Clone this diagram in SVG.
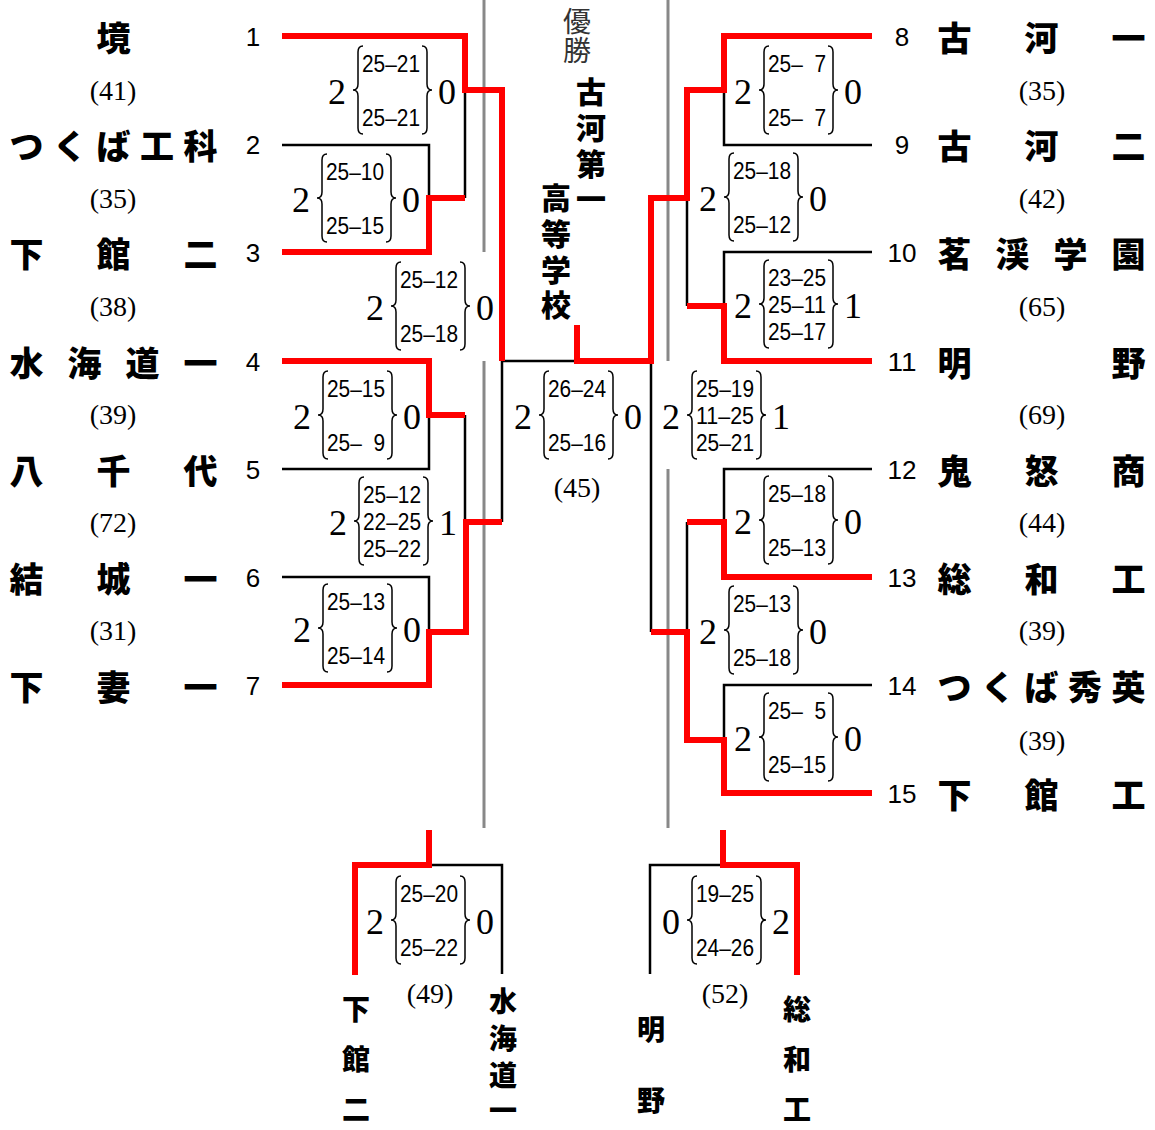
<svg xmlns="http://www.w3.org/2000/svg" xmlns:xlink="http://www.w3.org/1999/xlink" width="1155" height="1130" viewBox="0 0 1155 1130">
<style>
.nm{font-family:"Noto Sans CJK JP","Noto Sans CJK SC",sans-serif;font-weight:900;font-size:34px;fill:#000;dominant-baseline:central;text-anchor:middle}
.vt{font-family:"Noto Sans CJK JP","Noto Sans CJK SC",sans-serif;font-weight:900;font-size:30px;fill:#000;dominant-baseline:central;text-anchor:middle}
.vb{font-family:"Noto Sans CJK JP","Noto Sans CJK SC",sans-serif;font-weight:900;font-size:28px;fill:#000;dominant-baseline:central;text-anchor:middle}
.win{font-family:"Noto Sans CJK JP","Noto Sans CJK SC",sans-serif;font-weight:400;font-size:28px;fill:#333;dominant-baseline:central;text-anchor:middle}
.seed{font-family:"Liberation Sans",Arial,sans-serif;font-size:26px;fill:#000;text-anchor:middle;dominant-baseline:central}
.cnt{font-family:"Liberation Serif","Times New Roman",serif;font-size:28px;fill:#000;text-anchor:middle;dominant-baseline:central}
.big{font-family:"Liberation Serif","Times New Roman",serif;font-size:36px;fill:#000;text-anchor:middle;dominant-baseline:central}
.sc{font-family:"Liberation Sans",Arial,sans-serif;font-size:24px;fill:#000;text-anchor:middle;dominant-baseline:central}
.red{fill:none;stroke:#ff0000;stroke-width:6;stroke-linejoin:miter;stroke-linecap:butt}
.blk{fill:none;stroke:#000;stroke-width:2.5;stroke-linecap:butt}
.gry{fill:none;stroke:#888;stroke-width:3}
.br{fill:none;stroke:#000;stroke-width:1.5}
</style>
<defs>
<path id="lb" class="br" d="M10,-44 Q5,-44 5,-38 L5,-6 Q5,0 0,0 Q5,0 5,6 L5,38 Q5,44 10,44"/>
<path id="rb" class="br" d="M-10,-44 Q-5,-44 -5,-38 L-5,-6 Q-5,0 0,0 Q-5,0 -5,6 L-5,38 Q-5,44 -10,44"/>
</defs>
<rect width="1155" height="1130" fill="#fff"/>

<g id="gridlines">
<line class="gry" x1="484" y1="0" x2="484" y2="252"/>
<line class="gry" x1="484" y1="361" x2="484" y2="828"/>
<line class="gry" x1="668" y1="0" x2="668" y2="361"/>
<line class="gry" x1="668" y1="469" x2="668" y2="828"/>
</g>

<g id="connectors">
<polyline class="blk" points="282,145 429,145 429,198"/>
<polyline class="blk" points="465,90 465,198"/>
<polyline class="blk" points="282,469 429,469 429,415"/>
<polyline class="blk" points="465,415 465,522"/>
<polyline class="blk" points="282,577 429,577 429,632"/>
<polyline class="blk" points="577,361 502,361 502,522"/>
<polyline class="blk" points="724,90 724,145 872,145"/>
<polyline class="blk" points="687,198 687,306"/>
<polyline class="blk" points="724,306 724,252 872,252"/>
<polyline class="blk" points="651,361 651,632"/>
<polyline class="blk" points="724,522 724,469 872,469"/>
<polyline class="blk" points="687,522 687,632"/>
<polyline class="blk" points="724,740 724,685 872,685"/>
<polyline class="blk" points="429,865 502,865 502,974"/>
<polyline class="blk" points="723,865 650,865 650,974"/>

<polyline class="red" points="282,36 465,36 465,90 502,90 502,361"/>
<polyline class="red" points="282,252 429,252 429,198 465,198"/>
<polyline class="red" points="282,361 429,361 429,415 465,415"/>
<polyline class="red" points="502,522 466,522 466,632 429,632 429,685 282,685"/>
<polyline class="red" points="577,325 577,361 651,361 651,198 687,198 687,90 724,90 724,36 872,36"/>
<polyline class="red" points="687,306 724,306 724,361 872,361"/>
<polyline class="red" points="687,522 724,522 724,577 872,577"/>
<polyline class="red" points="651,632 687,632 687,740 724,740 724,793 872,793"/>
<polyline class="red" points="429,830 429,865 355,865 355,975"/>
<polyline class="red" points="723,830 723,865 797,865 797,975"/>
</g>

<g id="champion">
<text class="win" x="577 577" y="20 49">優勝</text>
<text class="vt" x="591 591 591 591" y="90 126 162 197">古河第一</text>
<text class="vt" x="556 556 556 556" y="196 232 268 303">高等学校</text>
</g>

<g id="team1"><text class="nm" x="113.5" y="36">境</text><text class="seed" x="253" y="37">1</text></g>
<g id="team2"><text class="nm" x="26.5 70 113.5 157 200.5" y="144">つくば工科</text><text class="seed" x="253" y="145">2</text></g>
<g id="team3"><text class="nm" x="26.5 113.5 200.5" y="252">下館二</text><text class="seed" x="253" y="253">3</text></g>
<g id="team4"><text class="nm" x="26.5 84.5 142.5 200.5" y="361">水海道一</text><text class="seed" x="253" y="362">4</text></g>
<g id="team5"><text class="nm" x="26.5 113.5 200.5" y="469">八千代</text><text class="seed" x="253" y="470">5</text></g>
<g id="team6"><text class="nm" x="26.5 113.5 200.5" y="577">結城一</text><text class="seed" x="253" y="578">6</text></g>
<g id="team7"><text class="nm" x="26.5 113.5 200.5" y="685">下妻一</text><text class="seed" x="253" y="686">7</text></g>

<g id="team8"><text class="seed" x="902" y="37">8</text><text class="nm" x="954.5 1041.5 1128.5" y="36">古河一</text></g>
<g id="team9"><text class="seed" x="902" y="145">9</text><text class="nm" x="954.5 1041.5 1128.5" y="144">古河二</text></g>
<g id="team10"><text class="seed" x="902" y="253" textLength="29" lengthAdjust="spacingAndGlyphs">10</text><text class="nm" x="954.5 1012.5 1070.5 1128.5" y="252">茗渓学園</text></g>
<g id="team11"><text class="seed" x="902" y="362" textLength="29" lengthAdjust="spacingAndGlyphs">11</text><text class="nm" x="954.5 1128.5" y="361">明野</text></g>
<g id="team12"><text class="seed" x="902" y="470" textLength="29" lengthAdjust="spacingAndGlyphs">12</text><text class="nm" x="954.5 1041.5 1128.5" y="469">鬼怒商</text></g>
<g id="team13"><text class="seed" x="902" y="578" textLength="29" lengthAdjust="spacingAndGlyphs">13</text><text class="nm" x="954.5 1041.5 1128.5" y="577">総和工</text></g>
<g id="team14"><text class="seed" x="902" y="686" textLength="29" lengthAdjust="spacingAndGlyphs">14</text><text class="nm" x="954.5 998 1041.5 1085 1128.5" y="685">つくば秀英</text></g>
<g id="team15"><text class="seed" x="902" y="794" textLength="29" lengthAdjust="spacingAndGlyphs">15</text><text class="nm" x="954.5 1041.5 1128.5" y="793">下館工</text></g>

<g id="counts">
<text class="cnt" x="113" y="90">(41)</text>
<text class="cnt" x="113" y="198">(35)</text>
<text class="cnt" x="113" y="306">(38)</text>
<text class="cnt" x="113" y="414">(39)</text>
<text class="cnt" x="113" y="522">(72)</text>
<text class="cnt" x="113" y="630">(31)</text>
<text class="cnt" x="1042" y="90">(35)</text>
<text class="cnt" x="1042" y="198">(42)</text>
<text class="cnt" x="1042" y="306">(65)</text>
<text class="cnt" x="1042" y="414">(69)</text>
<text class="cnt" x="1042" y="522">(44)</text>
<text class="cnt" x="1042" y="630">(39)</text>
<text class="cnt" x="1042" y="740">(39)</text>
<text class="cnt" x="577" y="487">(45)</text>
<text class="cnt" x="430" y="993">(49)</text>
<text class="cnt" x="725" y="993">(52)</text>
</g>

<g id="scoreA" transform="translate(391,90)"><text class="big" x="-54" y="2">2</text><use xlink:href="#lb" x="-38"/><text class="sc" y="-27" textLength="58" lengthAdjust="spacingAndGlyphs">25–21</text><text class="sc" y="27" textLength="58" lengthAdjust="spacingAndGlyphs">25–21</text><use xlink:href="#rb" x="41"/><text class="big" x="56" y="2">0</text></g>
<g id="scoreB" transform="translate(355,198)"><text class="big" x="-54" y="2">2</text><use xlink:href="#lb" x="-38"/><text class="sc" y="-27" textLength="58" lengthAdjust="spacingAndGlyphs">25–10</text><text class="sc" y="27" textLength="58" lengthAdjust="spacingAndGlyphs">25–15</text><use xlink:href="#rb" x="41"/><text class="big" x="56" y="2">0</text></g>
<g id="scoreC" transform="translate(429,306)"><text class="big" x="-54" y="2">2</text><use xlink:href="#lb" x="-38"/><text class="sc" y="-27" textLength="58" lengthAdjust="spacingAndGlyphs">25–12</text><text class="sc" y="27" textLength="58" lengthAdjust="spacingAndGlyphs">25–18</text><use xlink:href="#rb" x="41"/><text class="big" x="56" y="2">0</text></g>
<g id="scoreD" transform="translate(356,415)"><text class="big" x="-54" y="2">2</text><use xlink:href="#lb" x="-38"/><text class="sc" y="-27" textLength="58" lengthAdjust="spacingAndGlyphs">25–15</text><text class="sc" y="27" textLength="58" lengthAdjust="spacingAndGlyphs">25–&#8199;9</text><use xlink:href="#rb" x="41"/><text class="big" x="56" y="2">0</text></g>
<g id="scoreE" transform="translate(392,521)"><text class="big" x="-54" y="2">2</text><use xlink:href="#lb" x="-38"/><text class="sc" y="-27" textLength="58" lengthAdjust="spacingAndGlyphs">25–12</text><text class="sc" y="0" textLength="58" lengthAdjust="spacingAndGlyphs">22–25</text><text class="sc" y="27" textLength="58" lengthAdjust="spacingAndGlyphs">25–22</text><use xlink:href="#rb" x="41"/><text class="big" x="56" y="2">1</text></g>
<g id="scoreF" transform="translate(356,628)"><text class="big" x="-54" y="2">2</text><use xlink:href="#lb" x="-38"/><text class="sc" y="-27" textLength="58" lengthAdjust="spacingAndGlyphs">25–13</text><text class="sc" y="27" textLength="58" lengthAdjust="spacingAndGlyphs">25–14</text><use xlink:href="#rb" x="41"/><text class="big" x="56" y="2">0</text></g>
<g id="scoreG" transform="translate(577,415)"><text class="big" x="-54" y="2">2</text><use xlink:href="#lb" x="-38"/><text class="sc" y="-27" textLength="58" lengthAdjust="spacingAndGlyphs">26–24</text><text class="sc" y="27" textLength="58" lengthAdjust="spacingAndGlyphs">25–16</text><use xlink:href="#rb" x="41"/><text class="big" x="56" y="2">0</text></g>
<g id="scoreH" transform="translate(725,415)"><text class="big" x="-54" y="2">2</text><use xlink:href="#lb" x="-38"/><text class="sc" y="-27" textLength="58" lengthAdjust="spacingAndGlyphs">25–19</text><text class="sc" y="0" textLength="58" lengthAdjust="spacingAndGlyphs">11–25</text><text class="sc" y="27" textLength="58" lengthAdjust="spacingAndGlyphs">25–21</text><use xlink:href="#rb" x="41"/><text class="big" x="56" y="2">1</text></g>
<g id="scoreI" transform="translate(797,90)"><text class="big" x="-54" y="2">2</text><use xlink:href="#lb" x="-38"/><text class="sc" y="-27" textLength="58" lengthAdjust="spacingAndGlyphs">25–&#8199;7</text><text class="sc" y="27" textLength="58" lengthAdjust="spacingAndGlyphs">25–&#8199;7</text><use xlink:href="#rb" x="41"/><text class="big" x="56" y="2">0</text></g>
<g id="scoreJ" transform="translate(762,197)"><text class="big" x="-54" y="2">2</text><use xlink:href="#lb" x="-38"/><text class="sc" y="-27" textLength="58" lengthAdjust="spacingAndGlyphs">25–18</text><text class="sc" y="27" textLength="58" lengthAdjust="spacingAndGlyphs">25–12</text><use xlink:href="#rb" x="41"/><text class="big" x="56" y="2">0</text></g>
<g id="scoreK" transform="translate(797,304)"><text class="big" x="-54" y="2">2</text><use xlink:href="#lb" x="-38"/><text class="sc" y="-27" textLength="58" lengthAdjust="spacingAndGlyphs">23–25</text><text class="sc" y="0" textLength="58" lengthAdjust="spacingAndGlyphs">25–11</text><text class="sc" y="27" textLength="58" lengthAdjust="spacingAndGlyphs">25–17</text><use xlink:href="#rb" x="41"/><text class="big" x="56" y="2">1</text></g>
<g id="scoreL" transform="translate(797,520)"><text class="big" x="-54" y="2">2</text><use xlink:href="#lb" x="-38"/><text class="sc" y="-27" textLength="58" lengthAdjust="spacingAndGlyphs">25–18</text><text class="sc" y="27" textLength="58" lengthAdjust="spacingAndGlyphs">25–13</text><use xlink:href="#rb" x="41"/><text class="big" x="56" y="2">0</text></g>
<g id="scoreM" transform="translate(762,630)"><text class="big" x="-54" y="2">2</text><use xlink:href="#lb" x="-38"/><text class="sc" y="-27" textLength="58" lengthAdjust="spacingAndGlyphs">25–13</text><text class="sc" y="27" textLength="58" lengthAdjust="spacingAndGlyphs">25–18</text><use xlink:href="#rb" x="41"/><text class="big" x="56" y="2">0</text></g>
<g id="scoreN" transform="translate(797,737)"><text class="big" x="-54" y="2">2</text><use xlink:href="#lb" x="-38"/><text class="sc" y="-27" textLength="58" lengthAdjust="spacingAndGlyphs">25–&#8199;5</text><text class="sc" y="27" textLength="58" lengthAdjust="spacingAndGlyphs">25–15</text><use xlink:href="#rb" x="41"/><text class="big" x="56" y="2">0</text></g>
<g id="scoreO" transform="translate(429,920)"><text class="big" x="-54" y="2">2</text><use xlink:href="#lb" x="-38"/><text class="sc" y="-27" textLength="58" lengthAdjust="spacingAndGlyphs">25–20</text><text class="sc" y="27" textLength="58" lengthAdjust="spacingAndGlyphs">25–22</text><use xlink:href="#rb" x="41"/><text class="big" x="56" y="2">0</text></g>
<g id="scoreP" transform="translate(725,920)"><text class="big" x="-54" y="2">0</text><use xlink:href="#lb" x="-38"/><text class="sc" y="-27" textLength="58" lengthAdjust="spacingAndGlyphs">19–25</text><text class="sc" y="27" textLength="58" lengthAdjust="spacingAndGlyphs">24–26</text><use xlink:href="#rb" x="41"/><text class="big" x="56" y="2">2</text></g>

<g id="bottom-names">
<text class="vb" x="356 356 356" y="1008 1058 1108">下館二</text>
<text class="vb" x="503 503 503 503" y="1000 1037 1074 1109">水海道一</text>
<text class="vb" x="651 651" y="1028 1099">明野</text>
<text class="vb" x="797 797 797" y="1008 1058 1108">総和工</text>
</g>
</svg>
